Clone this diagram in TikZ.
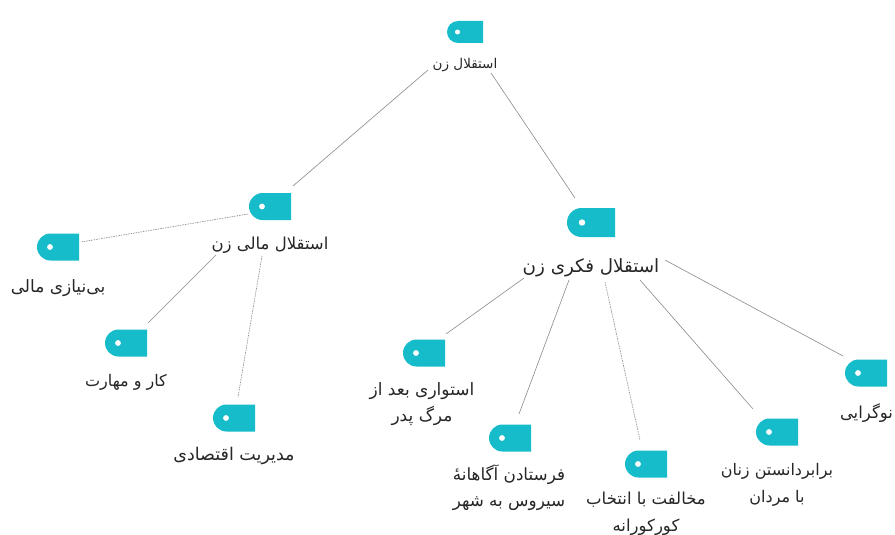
\documentclass[tikz,border=0pt]{standalone}
\usepackage{fontspec}
\TeXXeTstate=1
\newfontfamily\arabicfont[Script=Arabic]{DejaVu Sans}
\newcommand{\farsiline}[1]{\beginR #1\endR}
\newcommand{\lblsize}[1]{\fontsize{#1}{26.5}\selectfont}
\definecolor{tagteal}{HTML}{17BCCB}
\definecolor{inktext}{HTML}{262626}
\definecolor{linkgray}{HTML}{8A8A8A}
\tikzset{
  tagbox/.style={rectangle,inner sep=0pt,minimum width=42pt,minimum height=27pt,
    path picture={
      \fill[tagteal] (path picture bounding box.north east) -- (path picture bounding box.south east)
        -- ([xshift=13.5pt]path picture bounding box.south west)
        arc[start angle=270,end angle=90,radius=13.5pt] -- cycle;
      \fill[white] ([xshift=13pt]path picture bounding box.west) circle[radius=2.9pt];
    }},
  toptag/.style={rectangle,inner sep=0pt,minimum width=36pt,minimum height=22pt,
    path picture={
      \fill[tagteal] (path picture bounding box.north east) -- (path picture bounding box.south east)
        -- ([xshift=11pt]path picture bounding box.south west)
        arc[start angle=270,end angle=90,radius=11pt] -- cycle;
      \fill[white] ([xshift=10.5pt]path picture bounding box.west) circle[radius=2.5pt];
    }},
  bigtag/.style={rectangle,inner sep=0pt,minimum width=48pt,minimum height=29pt,
    path picture={
      \fill[tagteal] (path picture bounding box.north east) -- (path picture bounding box.south east)
        -- ([xshift=14.5pt]path picture bounding box.south west)
        arc[start angle=270,end angle=90,radius=14.5pt] -- cycle;
      \fill[white] ([xshift=15pt]path picture bounding box.west) circle[radius=3.2pt];
    }},
  lbl/.style={text=inktext,inner sep=0pt,align=center,font=\arabicfont\lblsize{16.5}},
  solidlink/.style={draw=linkgray,line width=0.6pt},
  dashlink/.style={draw=linkgray,line width=0.6pt,dash pattern=on 1.5pt off 1pt},
}
\begin{document}
\begin{tikzpicture}[x=1pt,y=-1pt]
\useasboundingbox[fill=white] (0,0) rectangle (895,535);
\node[toptag] (rootT) at (465,32) {};
\node[lbl,font=\arabicfont\lblsize{13.5}] (root) at (465,65) {\farsiline{استقلال زن}};
\node[tagbox] (maliT) at (270,206.5) {};
\node[lbl] (mali) at (270,245) {\farsiline{استقلال مالی زن}};
\node[bigtag] (fekriT) at (591,222.5) {};
\node[lbl,font=\arabicfont\lblsize{18.3}] (fekri) at (591,268) {\farsiline{استقلال فکری زن}};
\node[tagbox] (binT) at (58,247) {};
\node[lbl,font=\arabicfont\lblsize{17}] (bin) at (58,288) {\farsiline{بی‌نیازی مالی}};
\node[tagbox] (karT) at (126,343) {};
\node[lbl,font=\arabicfont\lblsize{16}] (kar) at (126,382) {\farsiline{کار و مهارت}};
\node[tagbox] (modT) at (234,418) {};
\node[lbl,font=\arabicfont\lblsize{17.5}] (mod) at (234,456) {\farsiline{مدیریت اقتصادی}};
\node[tagbox] (ostT) at (424,353) {};
\node[lbl,font=\arabicfont\lblsize{17}] (ost) at (422,404) {\farsiline{استواری بعد از}\\\farsiline{مرگ پدر}};
\node[tagbox] (ferT) at (510,438) {};
\node[lbl,font=\arabicfont\lblsize{16.8}] (fer) at (509,487.5) {\farsiline{فرستادن آگاهانهٔ}\\\farsiline{سیروس به شهر}};
\node[tagbox] (mokT) at (646,464) {};
\node[lbl] (mok) at (646,513.5) {\farsiline{مخالفت با انتخاب}\\\farsiline{کورکورانه}};
\node[tagbox] (barT) at (777,432) {};
\node[lbl,font=\arabicfont\lblsize{16}] (bar) at (777,485) {\farsiline{برابردانستن زنان}\\\farsiline{با مردان}};
\node[tagbox] (nowT) at (866,373) {};
\node[lbl,font=\arabicfont\lblsize{16.5}] (now) at (866.5,413) {\farsiline{نوگرایی}};
\draw[solidlink] ([shift={(-37,5)}]root.center) -- ([shift={(23,-20.5)}]maliT.center);
\draw[solidlink] ([shift={(26,8)}]root.center) -- ([shift={(-16,-24.5)}]fekriT.center);
\draw[dashlink] ([shift={(-22,7.5)}]maliT.center) -- ([shift={(23,-5)}]binT.center);
\draw[solidlink] ([shift={(-54,10)}]mali.center) -- ([shift={(22,-20)}]karT.center);
\draw[dashlink] ([shift={(-8,11)}]mali.center) -- ([shift={(4,-21)}]modT.center);
\draw[solidlink] ([shift={(-67,10)}]fekri.center) -- ([shift={(22,-19)}]ostT.center);
\draw[solidlink] ([shift={(-22,12)}]fekri.center) -- ([shift={(9,-24)}]ferT.center);
\draw[dashlink] ([shift={(14,14)}]fekri.center) -- ([shift={(-6,-24)}]mokT.center);
\draw[solidlink] ([shift={(49,12)}]fekri.center) -- ([shift={(-24,-23)}]barT.center);
\draw[solidlink] ([shift={(74,-8)}]fekri.center) -- ([shift={(-23,-17)}]nowT.center);
\end{tikzpicture}
\end{document}
